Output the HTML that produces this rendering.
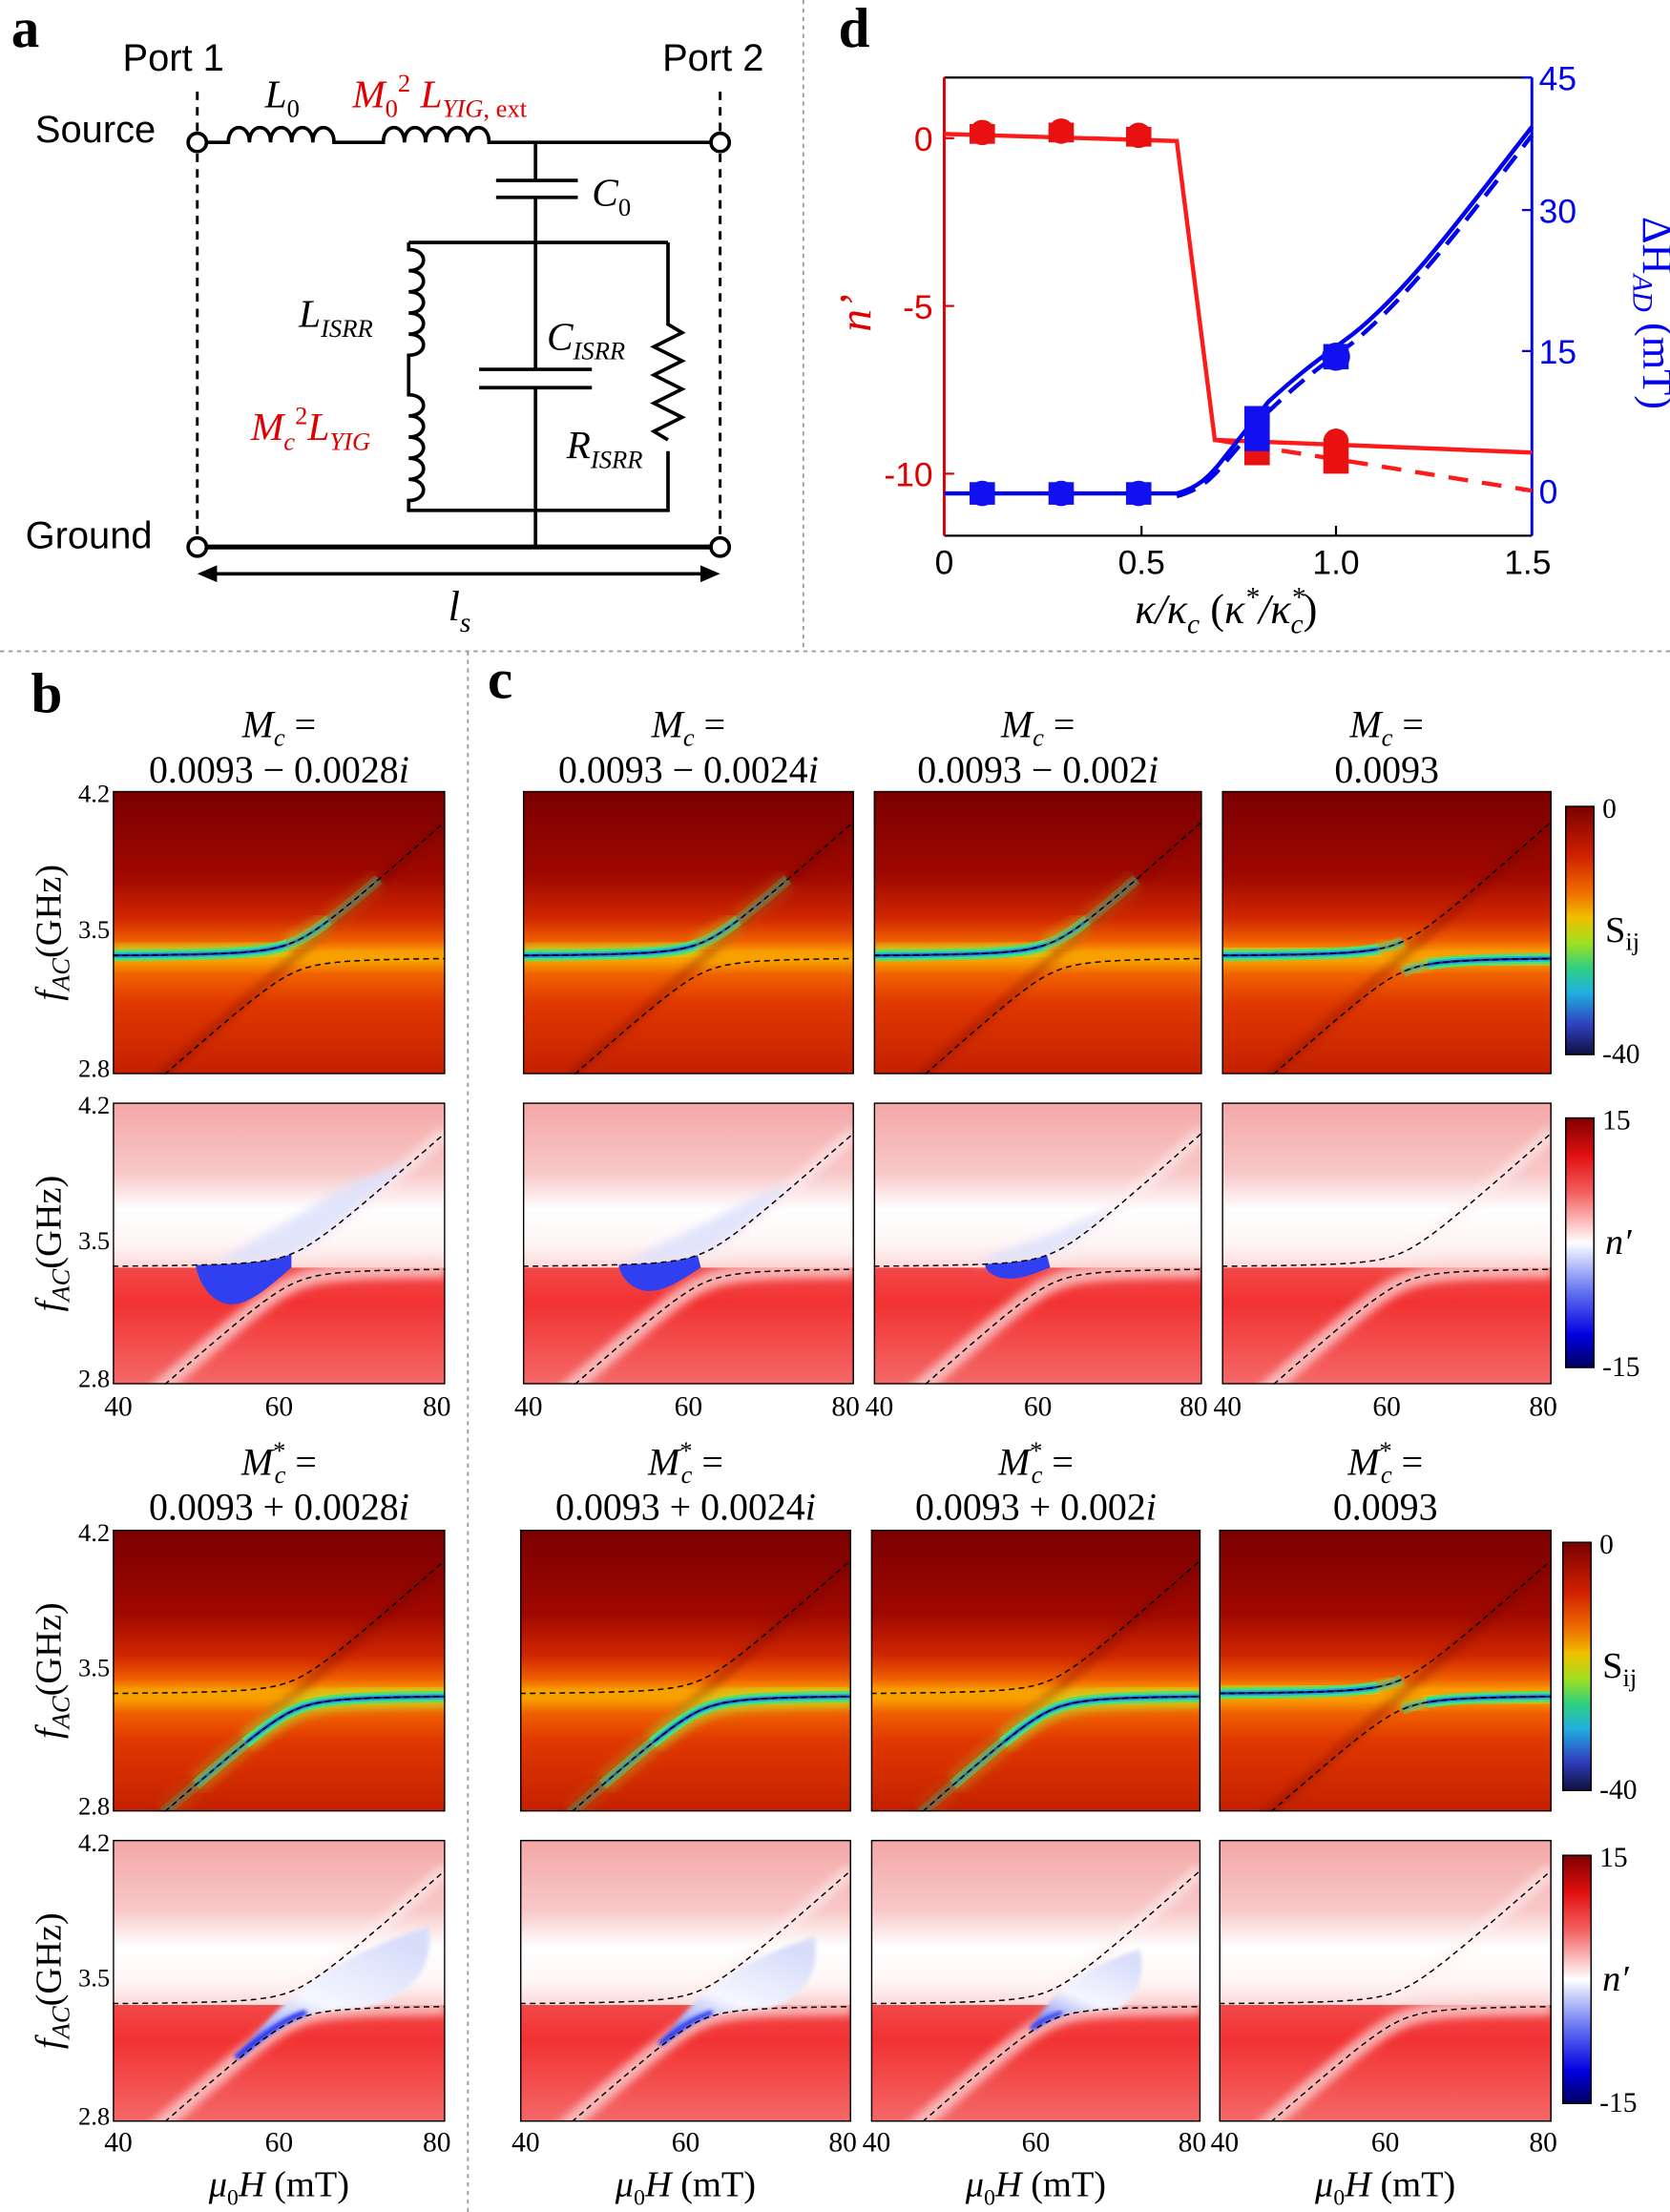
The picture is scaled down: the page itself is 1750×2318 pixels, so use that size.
<!DOCTYPE html>
<html><head><meta charset="utf-8"><style>
html,body{margin:0;padding:0;background:#fff;width:1750px;height:2318px;overflow:hidden}
svg{display:block}
.sf{font-family:"Liberation Serif",serif}
.ss{font-family:"Liberation Sans",sans-serif}
</style></head><body>
<svg id="s" xmlns="http://www.w3.org/2000/svg" width="1750" height="2318" viewBox="0 0 1185 1569" preserveAspectRatio="none">
<defs>
<linearGradient id="sbg" x1="0" y1="0" x2="0" y2="1">
<stop offset="0" stop-color="#7a0000"/><stop offset="0.3" stop-color="#a00800"/><stop offset="0.45" stop-color="#d02800"/>
<stop offset="0.53" stop-color="#f06000"/><stop offset="0.57" stop-color="#f8a000"/><stop offset="0.6" stop-color="#f8a000"/>
<stop offset="0.65" stop-color="#f06000"/><stop offset="0.75" stop-color="#e03800"/><stop offset="1" stop-color="#c42000"/>
</linearGradient>
<linearGradient id="nbg" x1="0" y1="0" x2="0" y2="1">
<stop offset="0" stop-color="#f4a6a6"/><stop offset="0.25" stop-color="#f8c8c8"/><stop offset="0.38" stop-color="#ffffff"/>
<stop offset="0.5" stop-color="#fff6f6"/><stop offset="0.585" stop-color="#fbdada"/>
</linearGradient>
<linearGradient id="nred" x1="0" y1="0" x2="0" y2="1">
<stop offset="0" stop-color="#f24848"/><stop offset="0.3" stop-color="#f23232"/><stop offset="1" stop-color="#f46868"/>
</linearGradient>
<linearGradient id="sbar" x1="0" y1="0" x2="0" y2="1">
<stop offset="0" stop-color="#7a0000"/><stop offset="0.2" stop-color="#d02000"/><stop offset="0.35" stop-color="#f07000"/>
<stop offset="0.45" stop-color="#f0c000"/><stop offset="0.55" stop-color="#a0e020"/><stop offset="0.65" stop-color="#30d080"/>
<stop offset="0.75" stop-color="#20b0e0"/><stop offset="0.88" stop-color="#3040c0"/><stop offset="1" stop-color="#101040"/>
</linearGradient>
<linearGradient id="nbar" x1="0" y1="0" x2="0" y2="1">
<stop offset="0" stop-color="#800000"/><stop offset="0.15" stop-color="#e01010"/><stop offset="0.3" stop-color="#f46060"/>
<stop offset="0.5" stop-color="#ffffff"/><stop offset="0.7" stop-color="#6070f0"/><stop offset="0.87" stop-color="#0000e0"/><stop offset="1" stop-color="#000060"/>
</linearGradient>
<linearGradient id="lobe" x1="0" y1="1" x2="0.6" y2="0">
<stop offset="0" stop-color="#4050f0"/><stop offset="0.25" stop-color="#a8b0f6"/><stop offset="0.5" stop-color="#f6f7ff"/><stop offset="1" stop-color="#d8defa"/>
</linearGradient>
<filter id="bl" x="-20%" y="-20%" width="140%" height="140%"><feGaussianBlur stdDeviation="3"/></filter>
<filter id="bl1" x="-20%" y="-20%" width="140%" height="140%"><feGaussianBlur stdDeviation="1.5"/></filter>
</defs>

<g stroke="#999" stroke-width="1.2" stroke-dasharray="3,3" fill="none">
<line x1="570" y1="0" x2="570" y2="462"/><line x1="0" y1="462" x2="1185" y2="462"/><line x1="332" y1="462" x2="332" y2="1569"/>
</g>

<g>
<text x="8" y="33" class="sf" font-size="40" font-weight="bold">a</text>
<text x="87" y="50" class="ss" font-size="27">Port 1</text>
<text x="470" y="50" class="ss" font-size="27">Port 2</text>
<text x="25" y="101" class="ss" font-size="27">Source</text>
<text x="18" y="389" class="ss" font-size="27">Ground</text>
<g stroke="#000" stroke-width="2" stroke-dasharray="6,5"><line x1="140" y1="65" x2="140" y2="382"/><line x1="511" y1="65" x2="511" y2="382"/></g>
<g stroke="#000" stroke-width="2.5" fill="none">
<path d="M147,101 H162 c0,-14 15,-14 15,0 c0,-14 15,-14 15,0 c0,-14 15,-14 15,0 c0,-14 15,-14 15,0 c0,-14 15,-14 15,0 H272 c0,-14 15,-14 15,0 c0,-14 15,-14 15,0 c0,-14 15,-14 15,0 c0,-14 15,-14 15,0 c0,-14 15,-14 15,0 H504"/>
<path d="M380,101 V128 M352,128 H410 M352,140 H410 M380,140 V262 M340,262 H420 M340,275 H420 M380,275 V388"/>
<path d="M290,172 H474 M290,172 V177 c14,0 14,15 0,15 c14,0 14,15 0,15 c14,0 14,15 0,15 c14,0 14,15 0,15 c14,0 14,15 0,15 V280 c14,0 14,15 0,15 c14,0 14,15 0,15 c14,0 14,15 0,15 c14,0 14,15 0,15 c14,0 14,15 0,15 V362 H474 V320 M474,172 V230 l10,6 l-20,10 l20,10 l-20,10 l20,10 l-20,10 l20,10 l-20,10 l10,6"/>
<path d="M147,388 H504" stroke-width="3.5"/>
<path d="M145,407 H506"/>
</g>
<path d="M140,407 l14,-6 v12 z M511,407 l-14,-6 v12 z" fill="#000"/>
<g fill="#fff" stroke="#000" stroke-width="2.5"><circle cx="140" cy="101" r="6.5"/><circle cx="511" cy="101" r="6.5"/><circle cx="140" cy="388" r="6.5"/><circle cx="511" cy="388" r="6.5"/></g>
<text x="188" y="76" class="sf" font-size="28" font-style="italic">L<tspan font-size="18" dy="7" font-style="normal">0</tspan></text>
<text x="250" y="76" class="sf" font-size="28" font-style="italic" fill="#e00000">M<tspan font-size="18" dy="7" font-style="normal">0</tspan><tspan font-size="18" dy="-18" font-style="normal">2</tspan><tspan dy="11"> L</tspan><tspan font-size="18" dy="7">YIG</tspan><tspan font-size="18" font-style="normal">, ext</tspan></text>
<text x="420" y="146" class="sf" font-size="28" font-style="italic">C<tspan font-size="18" dy="7" font-style="normal">0</tspan></text>
<text x="212" y="232" class="sf" font-size="28" font-style="italic">L<tspan font-size="18" dy="7">ISRR</tspan></text>
<text x="388" y="248" class="sf" font-size="28" font-style="italic">C<tspan font-size="18" dy="7">ISRR</tspan></text>
<text x="178" y="312" class="sf" font-size="28" font-style="italic" fill="#e00000">M<tspan font-size="18" dy="7">c</tspan><tspan font-size="18" dy="-18" font-style="normal">2</tspan><tspan dy="11">L</tspan><tspan font-size="18" dy="7">YIG</tspan></text>
<text x="402" y="325" class="sf" font-size="28" font-style="italic">R<tspan font-size="18" dy="7">ISRR</tspan></text>
<text x="318" y="440" class="sf" font-size="30" font-style="italic">l<tspan font-size="20" dy="8">s</tspan></text>
</g>

<g>
<text x="595" y="33" class="sf" font-size="40" font-weight="bold">d</text>
<line x1="670" y1="55" x2="1087" y2="55" stroke="#000" stroke-width="1.5"/>
<line x1="670" y1="380" x2="1087" y2="380" stroke="#000" stroke-width="1.5"/>
<line x1="670" y1="55" x2="670" y2="380" stroke="#e00000" stroke-width="2"/>
<line x1="1087" y1="55" x2="1087" y2="380" stroke="#0000ee" stroke-width="2"/>
<g stroke="#e00000" stroke-width="1.5"><line x1="670" y1="98" x2="677" y2="98"/><line x1="670" y1="217" x2="677" y2="217"/><line x1="670" y1="336" x2="677" y2="336"/></g>
<g stroke="#0000ee" stroke-width="1.5"><line x1="1080" y1="55" x2="1087" y2="55"/><line x1="1080" y1="149" x2="1087" y2="149"/><line x1="1080" y1="249" x2="1087" y2="249"/><line x1="1080" y1="348" x2="1087" y2="348"/></g>
<g stroke="#000" stroke-width="1.5"><line x1="810" y1="380" x2="810" y2="373"/><line x1="948" y1="380" x2="948" y2="373"/></g>
<g class="ss" font-size="24" fill="#e00000" text-anchor="end"><text x="662" y="107">0</text><text x="662" y="226">-5</text><text x="662" y="345">-10</text></g>
<g class="ss" font-size="24" fill="#0000ee"><text x="1092" y="64">45</text><text x="1092" y="158">30</text><text x="1092" y="258">15</text><text x="1092" y="357">0</text></g>
<g class="ss" font-size="24" text-anchor="middle"><text x="670" y="407">0</text><text x="810" y="407">0.5</text><text x="948" y="407">1.0</text><text x="1084" y="407">1.5</text></g>
<text x="870" y="442" class="sf" font-size="30" text-anchor="middle" font-style="italic">κ/κ<tspan font-size="20" dy="7">c</tspan><tspan dy="-7" font-style="normal"> (</tspan>κ<tspan font-size="20" dy="-12">*</tspan><tspan dy="12">/κ</tspan><tspan font-size="20" dy="-12">*</tspan><tspan font-size="20" dx="-10" dy="19">c</tspan><tspan dy="-7" font-style="normal">)</tspan></text>
<text transform="translate(618,222) rotate(-90)" class="sf" font-size="32" font-style="italic" fill="#e00000" text-anchor="middle">n’</text>
<text transform="translate(1166,222) rotate(90)" class="sf" font-size="30" fill="#0000ee" text-anchor="middle">ΔH<tspan font-style="italic" font-size="20" dy="7">AD</tspan><tspan dy="-7"> (mT)</tspan></text>
<path d="M670,95 L835,100 L862,312 L1087,321" fill="none" stroke="#ff1a1a" stroke-width="3"/>
<path d="M862,312 L1087,348" fill="none" stroke="#ff1a1a" stroke-width="3" stroke-dasharray="14,10"/>
<path d="M670,350 L835,350 C850,346 858,338 866,328 L900,285 C925,262 940,252 960,237 C1000,205 1040,150 1087,90" fill="none" stroke="#0000ee" stroke-width="3"/>
<path d="M835,352 C850,348 858,341 866,332 L900,292 C925,268 940,258 960,243 C1000,210 1040,157 1087,96" fill="none" stroke="#0000ee" stroke-width="3" stroke-dasharray="14,8"/>
<g fill="#e81010"><circle cx="697" cy="94" r="9"/><circle cx="753" cy="93" r="9"/><circle cx="808" cy="96" r="9"/><rect x="688" y="88" width="18" height="14"/><rect x="744" y="87" width="18" height="14"/><rect x="799" y="90" width="18" height="14"/>
<rect x="883" y="312" width="18" height="18"/><rect x="939" y="316" width="18" height="20"/><circle cx="948" cy="313" r="9"/></g>
<g fill="#1010f0"><rect x="688" y="342" width="18" height="16"/><rect x="744" y="342" width="18" height="16"/><rect x="799" y="342" width="18" height="16"/><circle cx="697" cy="350" r="9"/><circle cx="753" cy="350" r="9"/><circle cx="808" cy="350" r="9"/>
<rect x="883" y="288" width="18" height="32"/><circle cx="948" cy="253" r="10"/><rect x="939" y="244" width="18" height="18"/></g>
</g>

<text x="22" y="505" class="sf" font-size="40" font-weight="bold">b</text>
<text x="346" y="495" class="sf" font-size="40" font-weight="bold">c</text>
<g id="maps"></g>
</svg>
<script>
const NS='http://www.w3.org/2000/svg';
const root=document.getElementById('maps');
function el(t,a,p){const e=document.createElementNS(NS,t);for(const k in a)e.setAttribute(k,a[k]);(p||root).appendChild(e);return e;}
function txt(x,y,s,a,p){const e=el('text',Object.assign({x:x,y:y},a),p);e.innerHTML=s;return e;}
const fc=3.38,g=0.075;
const fm=H=>2.8+(H-46)*0.0365;
const up=H=>{const m=fm(H);return (fc+m)/2+Math.sqrt(((m-fc)/2)**2+g*g);};
const lo=H=>{const m=fm(H);return (fc+m)/2-Math.sqrt(((m-fc)/2)**2+g*g);};
function pathOf(fn,w,h,H0,H1,step,dy){step=step||0.25;dy=dy||0;let d='';for(let H=H0;H<=H1+1e-9;H+=step){const x=(H-40)/40*w,y=(4.2-fn(H))/1.4*h+dy;d+=(d?'L':'M')+x.toFixed(1)+','+y.toFixed(1);}return d;}
function frame(x,y,w,h){return el('svg',{x:x,y:y,width:w,height:h,overflow:'hidden'});}
function dashed(s,w,h){el('path',{d:pathOf(up,w,h,40,80),fill:'none',stroke:'#000','stroke-width':1,'stroke-dasharray':'4,3'},s);el('path',{d:pathOf(lo,w,h,40,80),fill:'none',stroke:'#000','stroke-width':1,'stroke-dasharray':'4,3'},s);}
function band(s,d,op){el('path',{d:d,fill:'none',stroke:'#b8e830','stroke-width':16,'stroke-opacity':0.55*op,filter:'url(#bl)'},s);
el('path',{d:d,fill:'none',stroke:'#50e070','stroke-width':8,'stroke-opacity':op},s);
el('path',{d:d,fill:'none',stroke:'#20b0e0','stroke-width':4,'stroke-opacity':op},s);
el('path',{d:d,fill:'none',stroke:'#202890','stroke-width':1.6,'stroke-opacity':op},s);}
function smap(x,y,w,h,mode){const s=frame(x,y,w,h);
el('rect',{x:0,y:0,width:w,height:h,fill:'url(#sbg)'},s);
el('path',{d:pathOf(fm,w,h,40,80),fill:'none',stroke:'#700000','stroke-width':6,'stroke-opacity':0.35,filter:'url(#bl)'},s);
if(mode==='up'){band(s,pathOf(up,w,h,40,61),1);band(s,pathOf(up,w,h,61,66),0.55);band(s,pathOf(up,w,h,66,72),0.25);}
else if(mode==='lo'){band(s,pathOf(lo,w,h,56,80),1);band(s,pathOf(lo,w,h,50,56),0.5);band(s,pathOf(lo,w,h,46,50),0.2);}
else{band(s,pathOf(up,w,h,40,59),1);band(s,pathOf(up,w,h,59,62),0.4);band(s,pathOf(lo,w,h,62,65),0.4);band(s,pathOf(lo,w,h,65,80),1);}
dashed(s,w,h);el('rect',{x:0.5,y:0.5,width:w-1,height:h-1,fill:'none',stroke:'#000','stroke-width':1},s);}
function nmap(x,y,w,h,mode,k){const s=frame(x,y,w,h);
const yc=(4.2-fc)/1.4*h;
el('rect',{x:0,y:0,width:w,height:h,fill:'url(#nbg)'},s);
el('rect',{x:0,y:yc,width:w,height:h-yc,fill:'url(#nred)'},s);
el('path',{d:pathOf(lo,w,h,40,80),fill:'none',stroke:'#fbd0d0','stroke-width':12,'stroke-opacity':0.8,filter:'url(#bl)'},s);
el('path',{d:pathOf(up,w,h,60,80),fill:'none',stroke:'#fff0f0','stroke-width':10,'stroke-opacity':0.6,filter:'url(#bl)'},s);
const X=H=>(H-40)/40*w,Y=f=>(4.2-f)/1.4*h;
if(k>0){
if(mode==='top'){
const Hend=62+14*k;let d='M'+X(52)+','+Y(up(52));
for(let H=52;H<=Hend;H+=0.5)d+='L'+X(H).toFixed(1)+','+Y(up(H)).toFixed(1);
for(let H=Hend;H>=52;H-=0.5){const t=(H-52)/(Hend-52);d+='L'+X(H).toFixed(1)+','+(Y(up(H))-Math.sin(Math.PI*t)*h*0.13*k).toFixed(1);}
el('path',{d:d+'Z',fill:'#dde2fb','fill-opacity':0.85,filter:'url(#bl)'},s);
const H0=50+(1-k)*8,H1=61.5;let d2='M'+X(H0)+','+Y(fc);
for(let H=H0;H<=H1;H+=0.5)d2+='L'+X(H).toFixed(1)+','+Y(up(H)).toFixed(1);
for(let H=H1;H>=H0;H-=0.5){const t=(H-H0)/(H1-H0);d2+='L'+X(H).toFixed(1)+','+(Y(fc)+Math.sin(Math.PI*Math.pow(t,0.7))*h*0.13*k*k).toFixed(1);}
el('path',{d:d2+'Z',fill:'#3040f0'},s);
}else{
const H0=55+(1-k)*10,H1=70;let d='M'+X(H0)+','+Y(lo(H0));
for(let H=H0;H<=H1;H+=0.5)d+='L'+X(H).toFixed(1)+','+Y(lo(H)).toFixed(1);
const Hend=66+12*k;
d+='Q'+X(Hend+1)+','+Y(3.45)+' '+X(Hend)+','+(Y(3.52+0.25*k))+'Q'+X(62)+','+Y(3.45+0.12*k)+' '+X(H0)+','+Y(lo(H0));
el('path',{d:d+'Z',fill:'url(#lobe)','fill-opacity':1,filter:'url(#bl1)'},s);
el('path',{d:pathOf(lo,w,h,H0,63,0.25,-2.5),fill:'none',stroke:'#2030f0','stroke-width':1+3*k,'stroke-linecap':'round',filter:'url(#bl1)'},s);
}}
dashed(s,w,h);el('rect',{x:0.5,y:0.5,width:w-1,height:h-1,fill:'none',stroke:'#000','stroke-width':1},s);}
const cols=[[80,236],[371,235],[620,233],[867,234]];
const colsB=[[80,236],[369,235],[618,234],[865,236]];
const ks=[1,0.8,0.55,0];
const topT=['0.0093 − 0.0028<tspan font-style="italic">i</tspan>','0.0093 − 0.0024<tspan font-style="italic">i</tspan>','0.0093 − 0.002<tspan font-style="italic">i</tspan>','0.0093'];
const botT=['0.0093 + 0.0028<tspan font-style="italic">i</tspan>','0.0093 + 0.0024<tspan font-style="italic">i</tspan>','0.0093 + 0.002<tspan font-style="italic">i</tspan>','0.0093'];
const F={'class':'sf','font-size':27,'text-anchor':'middle'};
for(let i=0;i<4;i++){
const [x,w]=cols[i],[xb,wb]=colsB[i];
smap(x,561,w,201,i===3?'both':'up');
nmap(x,782,w,200,'top',ks[i]);
smap(xb,1085,wb,200,i===3?'both':'lo');
nmap(xb,1305,wb,200,'bot',ks[i]);
const cx=x+w/2,cxb=xb+wb/2;
txt(cx,523,'<tspan font-style="italic">M</tspan><tspan font-size="18" dy="6" font-style="italic">c</tspan><tspan dy="-6"> =</tspan>',F);
txt(cx,555,topT[i],F);
txt(cxb,1046,'<tspan font-style="italic">M</tspan><tspan font-size="18" dy="-11">*</tspan><tspan font-size="18" font-style="italic" dx="-8" dy="17">c</tspan><tspan dy="-6"> =</tspan>',F);
txt(cxb,1078,botT[i],F);
const T={'class':'sf','font-size':20,'text-anchor':'middle'};
txt(x+4,1004,'40',T);txt(x+w/2,1004,'60',T);txt(x+w-6,1004,'80',T);
txt(xb+4,1526,'40',T);txt(xb+wb/2,1526,'60',T);txt(xb+wb-6,1526,'80',T);
txt(cxb,1558,'<tspan font-style="italic">μ</tspan><tspan font-size="16" dy="6">0</tspan><tspan font-style="italic" dy="-6">H</tspan> (mT)',{'class':'sf','font-size':26,'text-anchor':'middle'});
}
const Y={'class':'sf','font-size':18,'text-anchor':'end'};
[[561,762],[782,982],[1085,1285],[1305,1505]].forEach(([a,b])=>{
txt(78,a+8,'4.2',Y);txt(78,a+(b-a)*0.5+4,'3.5',Y);txt(78,b+2,'2.8',Y);
txt(0,0,'<tspan font-style="italic">f</tspan><tspan font-style="italic" font-size="18" dy="6">AC</tspan><tspan dy="-6">(GHz)</tspan>',{'class':'sf','font-size':26,'text-anchor':'middle',transform:'translate(43,'+((a+b)/2)+') rotate(-90)'});
});
function cbar(x,y,h,fill,top,bot,lab){el('rect',{x:x,y:y,width:20,height:h,fill:fill,stroke:'#000','stroke-width':1});
txt(x+26,y+8,top,{'class':'sf','font-size':20});txt(x+26,y+h+6,bot,{'class':'sf','font-size':20});
txt(x+28,y+h/2+8,lab,{'class':'sf','font-size':26});}
cbar(1111,572,176,'url(#sbar)','0','-40','S<tspan font-size="18" dy="6">ij</tspan>');
cbar(1111,793,177,'url(#nbar)','15','-15','<tspan font-style="italic">n′</tspan>');
cbar(1109,1094,176,'url(#sbar)','0','-40','S<tspan font-size="18" dy="6">ij</tspan>');
cbar(1109,1316,176,'url(#nbar)','15','-15','<tspan font-style="italic">n′</tspan>');
</script>
</body></html>
